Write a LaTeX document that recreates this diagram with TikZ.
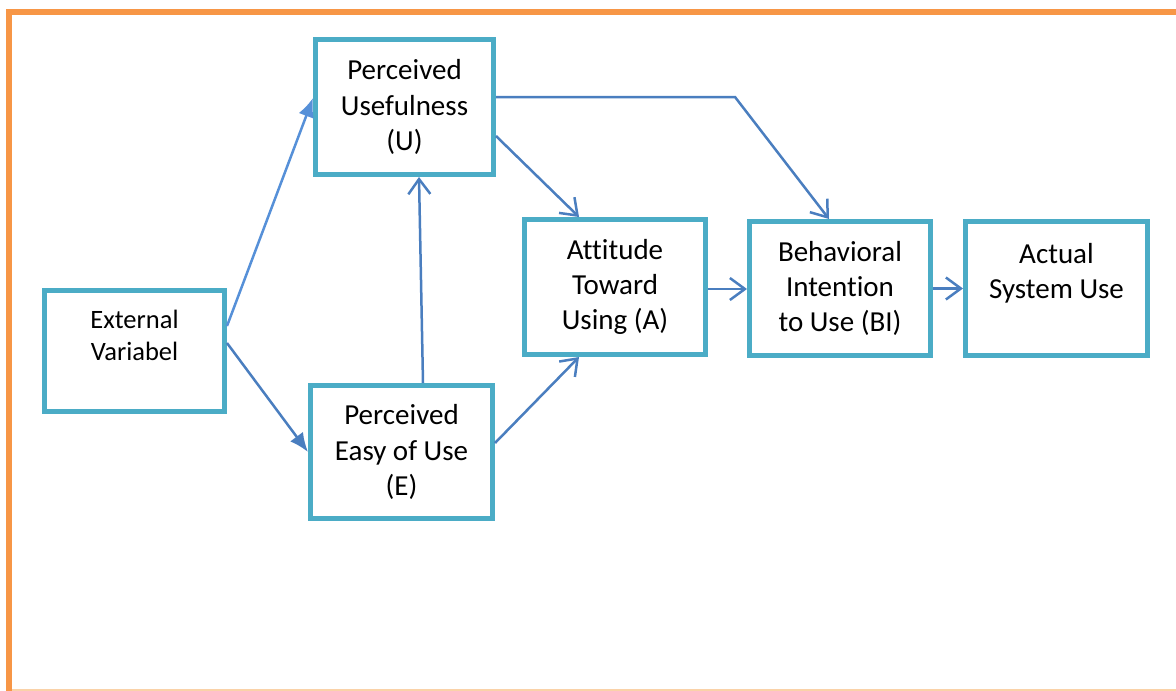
\documentclass[tikz,border=0pt]{standalone}
\usepackage{fontspec}
\setmainfont{Carlito}[Ligatures=CommonOff]
\usetikzlibrary{arrows.meta}
\definecolor{frameor}{HTML}{F79646}
\definecolor{framelt}{HTML}{FAD2A8}
\definecolor{boxteal}{HTML}{4BACC6}
\definecolor{arrblue}{HTML}{4A7EBF}
\definecolor{arrbluelt}{HTML}{5690D8}
\begin{document}
\begin{tikzpicture}[x=1pt,y=-1pt,
  tambox/.style={draw=boxteal, line width=5pt, fill=white, align=center, inner sep=0pt,
    font=\fontsize{29}{35.4}\selectfont},
  conn/.style={draw=arrblue, line width=2.5pt,
    -{Straight Barb[length=15pt,width=22pt,line width=2.5pt]}},
  fconn/.style={draw=arrblue, line width=2.5pt, -{Latex[length=19pt,width=16pt]}}]
\useasboundingbox (0,0) rectangle (1176,691);
\draw[framelt, line width=2pt] (12,689.5) -- (1176,689.5);
\draw[frameor, line width=6pt] (9,691) -- (9,12) -- (1176,12);

\node[tambox, minimum width=180pt, minimum height=121pt, font=\fontsize{26.5}{32}\selectfont]
  (ext) at (134.5,351) {External\\Variabel\\\mbox{}};
\node[tambox, minimum width=178pt, minimum height=135pt]
  (U) at (404.5,107) {Perceived\\Usefulness\\(U)};
\node[tambox, minimum width=182pt, minimum height=133pt]
  (E) at (401.5,452) {Perceived\\Easy of Use\\(E)};
\node[tambox, minimum width=181pt, minimum height=135pt]
  (A) at (615,287) {Attitude\\Toward\\Using (A)};
\node[tambox, minimum width=181pt, minimum height=134pt]
  (BI) at (840,288.5) {Behavioral\\Intention\\to Use (BI)};
\node[tambox, minimum width=182pt, minimum height=134pt]
  (AU) at (1056.5,288.5) {Actual\\System Use\\\mbox{}};

\coordinate (bend) at (735,97);

\draw[fconn, draw=arrbluelt] ([yshift=25pt]ext.east) -- ([yshift=9pt]U.west);
\draw[fconn] ([yshift=8pt]ext.east) -- (E.west);
\draw[conn] ([xshift=21.5pt]E.north) -- ([xshift=14.5pt]U.south);
\draw[conn] ([yshift=-29pt]U.east) -- ([xshift=-36pt]A.north);
\draw[conn] ([yshift=10pt]U.east) -- (bend) -- ([xshift=-11pt]BI.north);
\draw[conn] ([yshift=9pt]E.east) -- ([xshift=-36pt]A.south);
\draw[conn] ([yshift=-2pt]A.east) -- ([yshift=-2pt]A.east -| BI.west);
\draw[conn] (BI.east) -- (AU.west);
\end{tikzpicture}
\end{document}
